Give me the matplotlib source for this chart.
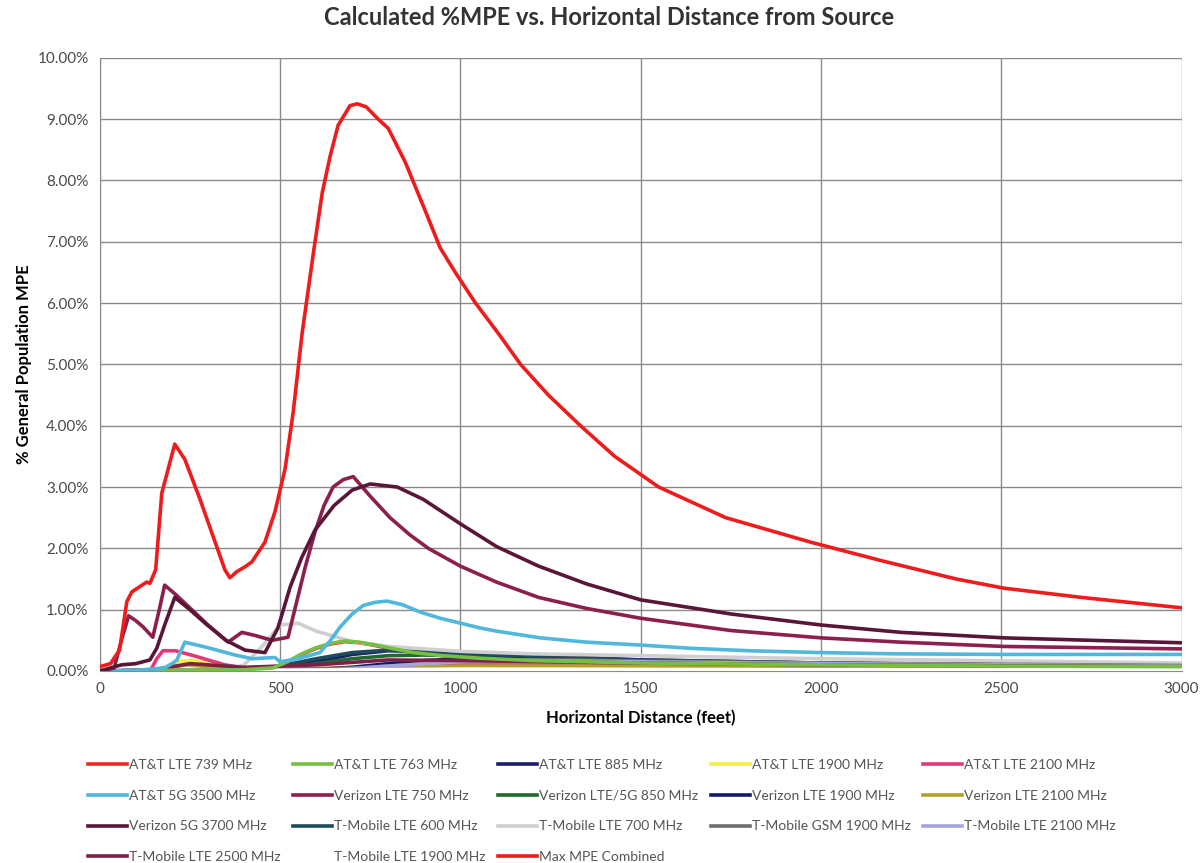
import matplotlib.pyplot as plt
from matplotlib.ticker import FuncFormatter, MultipleLocator

plt.rcParams['font.family'] = ['Lato', 'DejaVu Sans']

# distances (feet) and % MPE values, one pair per carrier
att_739_d = [0, 200, 400, 480, 520, 560, 600, 640, 680, 720, 760, 800, 870, 950, 1050, 1200, 1500, 2000, 2500, 3000]
att_739_v = [0.0, 0.01, 0.02, 0.05, 0.14, 0.27, 0.37, 0.44, 0.48, 0.46, 0.42, 0.37, 0.3, 0.25, 0.21, 0.17, 0.13, 0.1, 0.08, 0.07]

att_763_d = [0, 200, 400, 480, 520, 560, 600, 640, 680, 720, 760, 800, 870, 950, 1050, 1200, 1500, 2000, 2500, 3000]
att_763_v = [0.0, 0.01, 0.02, 0.05, 0.15, 0.28, 0.38, 0.45, 0.49, 0.47, 0.43, 0.38, 0.3, 0.25, 0.21, 0.17, 0.13, 0.1, 0.08, 0.07]

att_885_d = [0, 400, 500, 600, 700, 800, 900, 1000, 1200, 1500, 2000, 2500, 3000]
att_885_v = [0.0, 0.01, 0.05, 0.15, 0.27, 0.33, 0.32, 0.3, 0.25, 0.18, 0.13, 0.1, 0.08]

att_1900_d = [0, 150, 190, 220, 260, 300, 350, 400, 600, 800, 1000, 1500, 2000, 3000]
att_1900_v = [0.0, 0.0, 0.08, 0.16, 0.17, 0.12, 0.06, 0.03, 0.04, 0.09, 0.11, 0.1, 0.08, 0.05]

att_2100_d = [0, 140, 158, 175, 210, 260, 300, 347, 400, 500, 800, 1000, 1500, 2000, 3000]
att_2100_v = [0.0, 0.0, 0.2, 0.33, 0.33, 0.25, 0.18, 0.1, 0.05, 0.02, 0.07, 0.1, 0.09, 0.07, 0.05]

att_5g_3500_d = [0, 100, 180, 200, 214, 236, 300, 375, 422, 486, 500, 550, 611, 640, 667, 700, 731, 764, 797,
                 840, 889, 944, 1000, 1056, 1100, 1222, 1350, 1508, 1639, 1800, 2000, 2200, 2500, 2750, 3000]
att_5g_3500_v = [0.0, 0.01, 0.05, 0.12, 0.18, 0.47, 0.38, 0.26, 0.2, 0.22, 0.15, 0.2, 0.3, 0.5, 0.72, 0.93, 1.07,
                 1.12, 1.14, 1.08, 0.96, 0.86, 0.78, 0.7, 0.65, 0.54, 0.47, 0.42, 0.37, 0.33, 0.3, 0.28, 0.27, 0.27, 0.27]

vz_750_d = [0, 20, 40, 60, 80, 100, 120, 147, 165, 180, 210, 264, 300, 356, 394, 430, 478, 522, 547, 570, 597,
            622, 647, 675, 703, 750, 805, 860, 911, 1000, 1100, 1217, 1350, 1500, 1750, 2000, 2222, 2508, 2750, 3000]
vz_750_v = [0.0, 0.02, 0.05, 0.5, 0.9, 0.82, 0.72, 0.55, 1.0, 1.4, 1.25, 0.95, 0.75, 0.47, 0.63, 0.58, 0.5, 0.55,
            1.15, 1.7, 2.27, 2.7, 3.0, 3.12, 3.17, 2.85, 2.5, 2.22, 2.0, 1.71, 1.45, 1.2, 1.02, 0.86, 0.66, 0.54,
            0.47, 0.4, 0.38, 0.36]

vz_850_d = [0, 400, 500, 600, 700, 800, 900, 1000, 1200, 1500, 2000, 2500, 3000]
vz_850_v = [0.0, 0.01, 0.04, 0.12, 0.2, 0.25, 0.26, 0.25, 0.22, 0.17, 0.12, 0.1, 0.08]

vz_1900_d = [0, 600, 700, 800, 900, 1000, 1100, 1200, 1500, 2000, 3000]
vz_1900_v = [0.0, 0.02, 0.06, 0.12, 0.17, 0.2, 0.21, 0.2, 0.16, 0.12, 0.08]

vz_2100_d = [0, 170, 200, 240, 300, 400, 700, 1000, 1500, 2000, 3000]
vz_2100_v = [0.0, 0.0, 0.06, 0.1, 0.07, 0.03, 0.04, 0.08, 0.08, 0.06, 0.04]

vz_5g_3700_d = [0, 60, 100, 139, 158, 180, 208, 250, 292, 350, 403, 458, 494, 528, 560, 597, 650, 700, 750,
                825, 897, 1000, 1100, 1217, 1350, 1500, 1750, 2000, 2222, 2508, 2750, 3000]
vz_5g_3700_v = [0.0, 0.1, 0.12, 0.18, 0.37, 0.75, 1.2, 1.0, 0.78, 0.5, 0.34, 0.3, 0.7, 1.37, 1.85, 2.3, 2.7, 2.95,
                3.05, 3.0, 2.8, 2.4, 2.03, 1.71, 1.42, 1.16, 0.93, 0.75, 0.63, 0.54, 0.5, 0.46]

tm_600_d = [0, 400, 500, 600, 700, 800, 900, 1000, 1200, 1500, 2000, 2500, 3000]
tm_600_v = [0.0, 0.02, 0.08, 0.2, 0.3, 0.34, 0.33, 0.29, 0.24, 0.18, 0.13, 0.1, 0.08]

tm_700_d = [0, 350, 400, 450, 500, 550, 600, 700, 800, 900, 1000, 1200, 1500, 2000, 3000]
tm_700_v = [0.0, 0.02, 0.1, 0.4, 0.75, 0.78, 0.65, 0.48, 0.4, 0.36, 0.32, 0.28, 0.25, 0.2, 0.13]

tm_gsm_1900_d = [0, 700, 900, 1100, 1300, 1500, 2000, 3000]
tm_gsm_1900_v = [0.0, 0.04, 0.12, 0.18, 0.18, 0.16, 0.13, 0.09]

tm_2100_d = [0, 650, 800, 1000, 1200, 1500, 2000, 3000]
tm_2100_v = [0.0, 0.02, 0.08, 0.15, 0.17, 0.15, 0.12, 0.08]

tm_2500_d = [0, 150, 250, 400, 600, 800, 1000, 1500, 2000, 3000]
tm_2500_v = [0.0, 0.02, 0.12, 0.06, 0.1, 0.18, 0.17, 0.13, 0.1, 0.07]

tm_1900_d = [0, 500, 1000, 2000, 3000]
tm_1900_v = [0.0, 0.01, 0.03, 0.02, 0.02]

max_d = [0, 30, 42, 55, 75, 89, 130, 139, 155, 172, 208, 236, 278, 314, 347, 361, 380, 403, 422, 458, 486, 514,
         536, 561, 592, 617, 639, 661, 694, 714, 739, 772, 800, 847, 903, 944, 986, 1042, 1106, 1167, 1244, 1333,
         1428, 1550, 1736, 1972, 2167, 2375, 2508, 2722, 3000]
max_v = [0.07, 0.12, 0.23, 0.34, 1.13, 1.29, 1.45, 1.43, 1.65, 2.9, 3.7, 3.45, 2.8, 2.2, 1.65, 1.52, 1.62, 1.7,
         1.78, 2.1, 2.6, 3.3, 4.2, 5.5, 6.8, 7.8, 8.4, 8.9, 9.22, 9.25, 9.2, 9.0, 8.85, 8.3, 7.5, 6.9, 6.5, 6.0,
         5.5, 5.0, 4.5, 4.0, 3.5, 3.0, 2.5, 2.1, 1.8, 1.5, 1.35, 1.2, 1.03]

series = [
    ("AT&T LTE 739 MHz", att_739_d, att_739_v, "#ee2a24"),
    ("AT&T LTE 763 MHz", att_763_d, att_763_v, "#74c043"),
    ("AT&T LTE 885 MHz", att_885_d, att_885_v, "#1b1d6d"),
    ("AT&T LTE 1900 MHz", att_1900_d, att_1900_v, "#f4ee45"),
    ("AT&T LTE 2100 MHz", att_2100_d, att_2100_v, "#e23a78"),
    ("AT&T 5G 3500 MHz", att_5g_3500_d, att_5g_3500_v, "#4fb8dc"),
    ("Verizon LTE 750 MHz", vz_750_d, vz_750_v, "#8c1f4c"),
    ("Verizon LTE/5G 850 MHz", vz_850_d, vz_850_v, "#1f6a2e"),
    ("Verizon LTE 1900 MHz", vz_1900_d, vz_1900_v, "#16196b"),
    ("Verizon LTE 2100 MHz", vz_2100_d, vz_2100_v, "#b0a22a"),
    ("Verizon 5G 3700 MHz", vz_5g_3700_d, vz_5g_3700_v, "#5a1638"),
    ("T-Mobile LTE 600 MHz", tm_600_d, tm_600_v, "#1e4c5c"),
    ("T-Mobile LTE 700 MHz", tm_700_d, tm_700_v, "#cfcfcf"),
    ("T-Mobile GSM 1900 MHz", tm_gsm_1900_d, tm_gsm_1900_v, "#6e6e6e"),
    ("T-Mobile LTE 2100 MHz", tm_2100_d, tm_2100_v, "#a7a2e0"),
    ("T-Mobile LTE 2500 MHz", tm_2500_d, tm_2500_v, "#7e1f48"),
    ("T-Mobile LTE 1900 MHz", tm_1900_d, tm_1900_v, "#ffffff"),
    ("Max MPE Combined", max_d, max_v, "#ee1c1c"),
]

# draw order: small curves first, big ones on top
z_order = {"Max MPE Combined": 10, "Verizon 5G 3700 MHz": 9, "Verizon LTE 750 MHz": 8,
           "AT&T 5G 3500 MHz": 7, "AT&T LTE 763 MHz": 6}

fig = plt.figure(figsize=(12.02, 8.63), dpi=100)
ax = fig.add_axes([0.083, 0.2225, 0.900, 0.7105])

handles = {}
for name, d, v, color in series:
    line, = ax.plot(d, [x / 100 for x in v], color=color, lw=2.6, label=name,
                    zorder=z_order.get(name, 3), solid_joinstyle='round')
    handles[name] = line

ax.set_xlim(0, 3000)
ax.set_ylim(0, 0.10)
ax.xaxis.set_major_locator(MultipleLocator(500))
ax.yaxis.set_major_locator(MultipleLocator(0.01))
ax.yaxis.set_major_formatter(FuncFormatter(lambda y, _: f"{y * 100:.2f}%"))
ax.grid(True, color="#8a8a8a", lw=1.0)
ax.set_axisbelow(True)
for side in ["top", "right"]:
    ax.spines[side].set_visible(False)
for side in ["left", "bottom"]:
    ax.spines[side].set_color("#8a8a8a")
ax.tick_params(length=0, labelsize=11, colors="#4a4a4a", pad=8)

fig.text(0.507, 0.98, "Calculated %MPE vs. Horizontal Distance from Source", fontsize=17,
         fontweight="bold", color="#333333", ha="center", va="center")
ax.set_xlabel("Horizontal Distance (feet)", fontsize=12, fontweight="bold", labelpad=10)
ax.set_ylabel("% General Population MPE", fontsize=12, fontweight="bold", labelpad=4)

# legend filled column by column so rows read like the original
legend_order = [
    "AT&T LTE 739 MHz", "AT&T 5G 3500 MHz", "Verizon 5G 3700 MHz", "T-Mobile LTE 2500 MHz",
    "AT&T LTE 763 MHz", "Verizon LTE 750 MHz", "T-Mobile LTE 600 MHz", "T-Mobile LTE 1900 MHz",
    "AT&T LTE 885 MHz", "Verizon LTE/5G 850 MHz", "T-Mobile LTE 700 MHz", "Max MPE Combined",
    "AT&T LTE 1900 MHz", "Verizon LTE 1900 MHz", "T-Mobile GSM 1900 MHz",
    "AT&T LTE 2100 MHz", "Verizon LTE 2100 MHz", "T-Mobile LTE 2100 MHz",
]
leg = fig.legend([handles[n] for n in legend_order], legend_order, ncol=5, loc="upper left",
                 bbox_to_anchor=(0.063, 0.135), frameon=False, fontsize=10, handlelength=2.8,
                 handletextpad=0.15, columnspacing=0.9, labelspacing=1.35)
for t in leg.get_texts():
    t.set_color("#555555")

fig.savefig("out.png", dpi=100)
